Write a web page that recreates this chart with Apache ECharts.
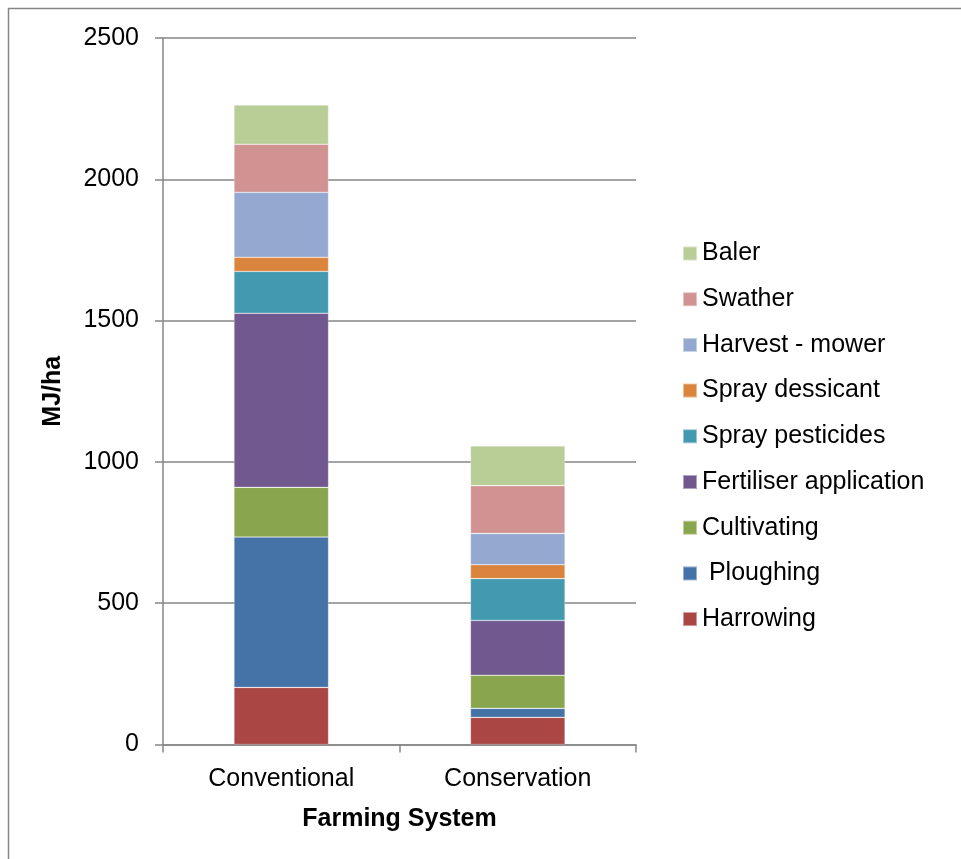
<!DOCTYPE html>
<html>
<head>
<meta charset="utf-8">
<script src="https://cdn.jsdelivr.net/npm/echarts@6/dist/echarts.min.js"></script>
<style>html,body{margin:0;padding:0;background:#fff;}#c{width:961px;height:859px;}</style>
</head>
<body>
<div id="c"></div>
<script>
const categories = ['Conventional', 'Conservation'];
const seriesNames = ['Harrowing', ' Ploughing', 'Cultivating', 'Fertiliser application', 'Spray pesticides', 'Spray dessicant', 'Harvest - mower', 'Swather', 'Baler'];
const harrowing = [202, 96];
const ploughing = [532, 32];
const cultivating = [176, 117];
const fertiliser = [616, 194];
const sprayPesticides = [148, 148];
const sprayDessicant = [50, 49];
const harvestMower = [230, 111];
const swather = [170, 169];
const baler = [139, 140];
const yTicks = [0, 500, 1000, 1500, 2000, 2500];
const colors = ['#AA4643', '#4572A7', '#89A54E', '#71588F', '#4299B0', '#DB843D', '#95A9D0', '#D19392', '#B9CD96'];

const values = [harrowing, ploughing, cultivating, fertiliser, sprayPesticides, sprayDessicant, harvestMower, swather, baler];
const FONT = "'Liberation Sans', Arial, sans-serif";

const chart = echarts.init(document.getElementById('c'), null, {renderer: 'canvas'});
chart.setOption({
  animation: false,
  backgroundColor: '#fff',
  textStyle: {fontFamily: FONT},
  graphic: [{
    type: 'rect', silent: true, z: -10,
    shape: {x: 8.5, y: 8.5, width: 1000, height: 1000},
    style: {fill: 'none', stroke: '#868686', lineWidth: 1.5}
  }],
  grid: {left: 163, right: 325, top: 38, bottom: 114.5, containLabel: false},
  legend: {
    orient: 'vertical',
    left: 677,
    top: 236,
    itemWidth: 14,
    itemHeight: 14,
    itemGap: 20.7,
    icon: 'rect',
    data: seriesNames.slice().reverse(),
    textStyle: {fontSize: 25, lineHeight: 25, color: '#000', fontFamily: FONT}
  },
  xAxis: {
    type: 'category',
    data: categories,
    name: 'Farming System',
    nameLocation: 'middle',
    nameGap: 62,
    nameTextStyle: {fontSize: 25, fontWeight: 'bold', color: '#000', fontFamily: FONT},
    axisLine: {lineStyle: {color: '#868686', width: 1.5}},
    axisTick: {show: true, length: 8, lineStyle: {color: '#868686', width: 1.5}},
    axisLabel: {fontSize: 25, color: '#000', margin: 22, fontFamily: FONT}
  },
  yAxis: {
    type: 'value',
    min: yTicks[0],
    max: yTicks[yTicks.length - 1],
    interval: 500,
    name: 'MJ/ha',
    nameLocation: 'middle',
    nameGap: 97,
    nameTextStyle: {fontSize: 25, fontWeight: 'bold', color: '#000', fontFamily: FONT},
    axisLine: {show: true, lineStyle: {color: '#868686', width: 1.5}},
    axisTick: {show: true, length: 8, lineStyle: {color: '#868686', width: 1.5}},
    axisLabel: {fontSize: 25, color: '#000', margin: 24, fontFamily: FONT, formatter: v => String(v)},
    splitLine: {show: true, lineStyle: {color: '#868686', width: 1.5}}
  },
  series: seriesNames.map((name, i) => ({
    name: name,
    type: 'bar',
    stack: 'total',
    barWidth: '40%',
    data: values[i],
    itemStyle: {color: colors[i], borderColor: 'rgba(255,255,255,0.45)', borderWidth: 0.6}
  }))
});
</script>
</body>
</html>
